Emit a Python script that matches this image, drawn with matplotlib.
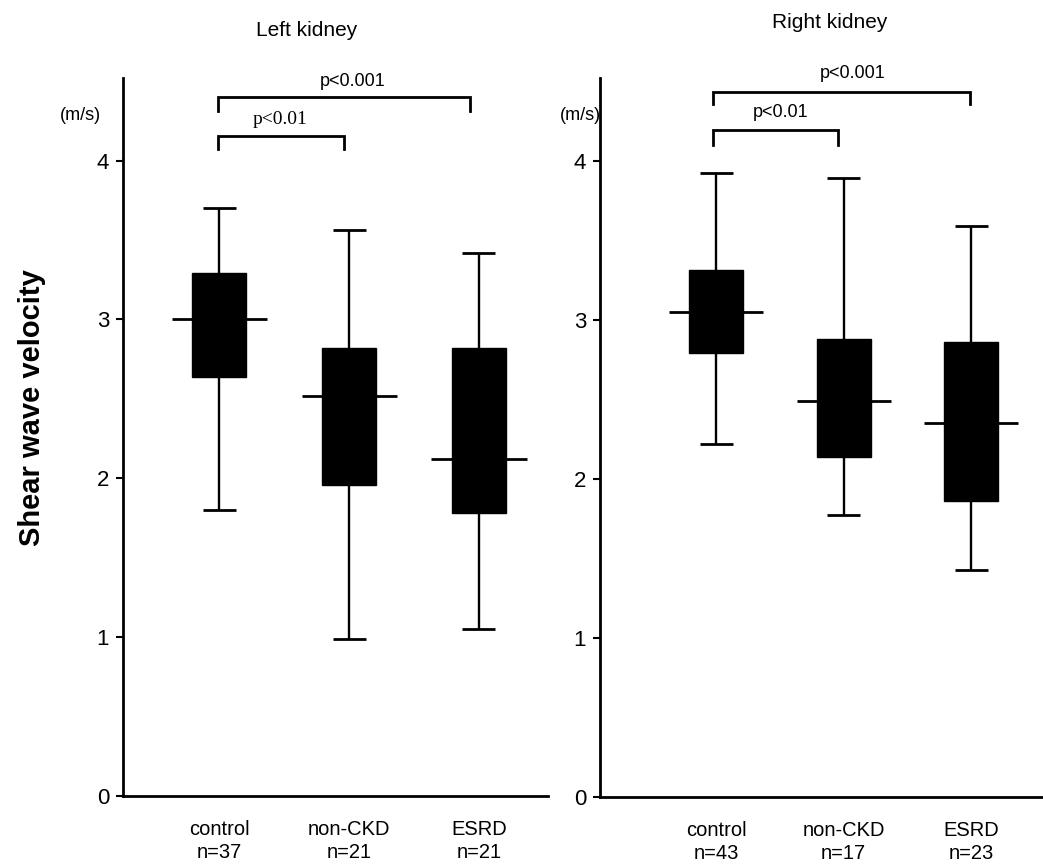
import matplotlib
matplotlib.use("Agg")
import matplotlib.pyplot as plt

plt.rcParams['font.family'] = ['Liberation Sans', 'DejaVu Sans']

categories = ["control", "non-CKD", "ESRD"]
left_n = ["n=37", "n=21", "n=21"]
right_n = ["n=43", "n=17", "n=23"]

# box statistics: lower whisker, Q1, median, Q3, upper whisker
left_low = [1.80, 0.99, 1.05]
left_q1 = [2.64, 1.96, 1.78]
left_med = [3.00, 2.52, 2.12]
left_q3 = [3.29, 2.82, 2.82]
left_high = [3.70, 3.56, 3.42]

right_low = [2.22, 1.77, 1.43]
right_q1 = [2.79, 2.14, 1.86]
right_med = [3.05, 2.49, 2.35]
right_q3 = [3.31, 2.88, 2.86]
right_high = [3.92, 3.89, 3.59]

yticks = [0, 1, 2, 3, 4]

W, H = 1043, 867
fig = plt.figure(figsize=(W / 100, H / 100), dpi=100)


def px_axes(x0, x1, y0, y1):
    # pixel coords (top-left origin) -> figure fraction
    return fig.add_axes([x0 / W, 1 - y1 / H, (x1 - x0) / W, (y1 - y0) / H])


def draw_panel(ax, low, q1, med, q3, high, nlabels, box_w, cap_w, med_w, xlim):
    pos = list(range(len(categories)))
    ax.set_xlim(*xlim)
    ax.set_ylim(0, 4.52)
    for i in pos:
        ax.vlines(i, low[i], high[i], color='black', lw=1.7, zorder=2)
        ax.hlines([low[i], high[i]], i - cap_w / 2, i + cap_w / 2, color='black', lw=2.0, zorder=2)
        ax.hlines(med[i], i - med_w / 2, i + med_w / 2, color='black', lw=2.0, zorder=2)
    ax.bar(pos, [b - a for a, b in zip(q1, q3)], bottom=q1, width=box_w,
           color='black', edgecolor='black', zorder=3)
    for s in ['top', 'right']:
        ax.spines[s].set_visible(False)
    for s in ['left', 'bottom']:
        ax.spines[s].set_linewidth(2.0)
    ax.set_yticks(yticks)
    ax.set_yticklabels([str(t) for t in yticks], fontsize=16)
    ax.tick_params(axis='y', length=5, width=1.5, pad=5)
    ax.set_xticks(pos)
    ax.set_xticklabels([f"{c}\n{n}" for c, n in zip(categories, nlabels)], fontsize=14.5,
                       linespacing=1.3)
    ax.tick_params(axis='x', length=0, pad=17)
    ax.patch.set_alpha(0)


def bracket(ax, x0, x1, ytop, ybot, text, tx, ty, fam, fs):
    ax.plot([x0, x0, x1, x1], [ybot, ytop, ytop, ybot], color='black', lw=2.0,
            clip_on=False, solid_joinstyle='miter')
    ax.text(tx, ty, text, ha='center', va='center', fontsize=fs, family=fam, clip_on=False)


# Left panel
axL = px_axes(123, 548, 78, 796)
draw_panel(axL, left_low, left_q1, left_med, left_q3, left_high, left_n,
           box_w=54 / 130, cap_w=33 / 130, med_w=95 / 130, xlim=(-96 / 130, 329 / 130))
bracket(axL, -0.01, 1.93, 4.40, 4.31, "p<0.001", 1.03, 4.50,
        ['Liberation Sans', 'DejaVu Sans'], 13)
bracket(axL, -0.01, 0.965, 4.157, 4.07, "p<0.01", 0.47, 4.26,
        ['Liberation Serif', 'DejaVu Serif'], 14)
fig.text(32 / W, 1 - 408 / H, "Shear wave velocity", rotation=90,
         ha='center', va='center', fontsize=21, fontweight='bold')
fig.text(80 / W, 1 - 115 / H, "(m/s)", ha='center', va='center', fontsize=13)
fig.text(307 / W, 1 - 30 / H, "Left kidney", ha='center', va='center', fontsize=15)

# Right panel
axR = px_axes(600, 1043, 78, 797)
draw_panel(axR, right_low, right_q1, right_med, right_q3, right_high, right_n,
           box_w=54 / 127.5, cap_w=33 / 127.5, med_w=94 / 127.5,
           xlim=(-116 / 127.5, 327 / 127.5))
bracket(axR, -0.024, 1.99, 4.43, 4.355, "p<0.001", 1.07, 4.55,
        ['Liberation Sans', 'DejaVu Sans'], 13)
bracket(axR, -0.024, 0.957, 4.19, 4.10, "p<0.01", 0.51, 4.30,
        ['Liberation Sans', 'DejaVu Sans'], 13)
fig.text(580 / W, 1 - 115 / H, "(m/s)", ha='center', va='center', fontsize=13)
fig.text(830 / W, 1 - 22 / H, "Right kidney", ha='center', va='center', fontsize=15)

fig.savefig("out.png", dpi=100, facecolor='white')
